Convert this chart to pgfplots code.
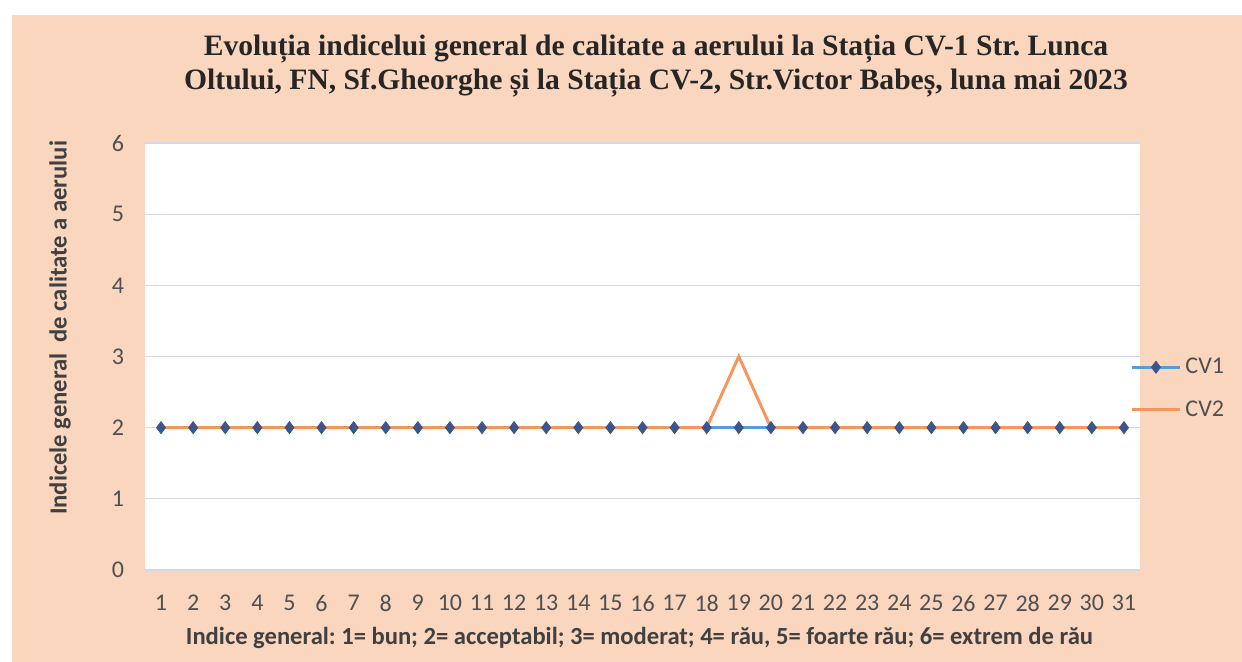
\documentclass[border=0pt]{standalone}
\usepackage{fontspec}
\setmainfont{Carlito}
\newfontfamily\titlefont{Liberation Serif}
\usepackage{pgfplots}
\pgfplotsset{compat=1.18}
\frenchspacing
\definecolor{peach}{RGB}{250,214,190}
\definecolor{cvblue}{RGB}{91,155,213}
\definecolor{cvmark}{RGB}{58,86,140}
\definecolor{cvorange}{RGB}{246,150,95}
\definecolor{gridc}{RGB}{214,214,228}
\definecolor{txt}{RGB}{80,80,80}
\begin{document}
\begin{tikzpicture}[x=1pt,y=1pt]
\fill[white] (0,0) rectangle (621,331);
\fill[peach] (6,0) rectangle (621,323.5);
\node[font=\titlefont\bfseries\fontsize{14.8}{17}\selectfont, text=black!85, align=center] at (328,298)
  {Evoluția indicelui general de calitate a aerului la Stația CV-1 Str. Lunca\\Oltului, FN, Sf.Gheorghe și la Stația CV-2, Str.Victor Babeș, luna mai 2023};
\begin{axis}[
  at={(72.5pt,46pt)}, anchor=south west,
  scale only axis, width=497.5pt, height=213.5pt,
  axis background/.style={fill=white},
  xmin=0.5, xmax=31.5, ymin=0, ymax=6,
  xtick={1,...,31}, ytick={0,1,...,6},
  major tick length=0pt,
  axis line style={draw=none},
  ymajorgrids, grid style={gridc, line width=0.6pt},
  tick label style={font=\fontsize{12}{14}\selectfont, text=txt},
  /pgf/number format/assume math mode=true,
  yticklabel style={xshift=-7pt},
  xticklabel style={yshift=-9pt},
  xlabel={Indice general: 1= bun; 2= acceptabil; 3= moderat; 4= rău, 5= foarte rău; 6= extrem de rău},
  ylabel={Indicele general\ \ de calitate a aerului},
  x label style={at={(axis description cs:0.497,-0.159)}, anchor=center, font=\bfseries\fontsize{12.3}{14}\selectfont, text=black!75},
  y label style={at={(axis description cs:-0.0854,0.567)}, anchor=center, rotate=0, font=\bfseries\fontsize{12.3}{14}\selectfont, text=black!75},
  legend style={at={(axis description cs:0.99,0.425)}, anchor=west, draw=none, fill=none, font=\fontsize{12}{14}\selectfont, text=txt, row sep=8pt, inner sep=0pt},
  legend cell align=left,
  legend image code/.code={\draw[#1] (0pt,0pt) -- (24pt,0pt); \draw[#1,only marks] plot coordinates {(12pt,0pt)};},
]
\addplot[cvblue, line width=1.5pt, mark=diamond*, mark size=3pt, mark options={fill=cvmark, draw=cvmark, line width=0.4pt}] coordinates {
(1,2)(2,2)(3,2)(4,2)(5,2)(6,2)(7,2)(8,2)(9,2)(10,2)(11,2)(12,2)(13,2)(14,2)(15,2)(16,2)
(17,2)(18,2)(19,2)(20,2)(21,2)(22,2)(23,2)(24,2)(25,2)(26,2)(27,2)(28,2)(29,2)(30,2)(31,2)};
\addlegendentry{CV1}
\addplot[cvorange, line width=1.5pt, mark=none] coordinates {
(1,2)(2,2)(3,2)(4,2)(5,2)(6,2)(7,2)(8,2)(9,2)(10,2)(11,2)(12,2)(13,2)(14,2)(15,2)(16,2)
(17,2)(18,2)(19,3)(20,2)(21,2)(22,2)(23,2)(24,2)(25,2)(26,2)(27,2)(28,2)(29,2)(30,2)(31,2)};
\addlegendentry{CV2}
\end{axis}
\end{tikzpicture}
\end{document}
